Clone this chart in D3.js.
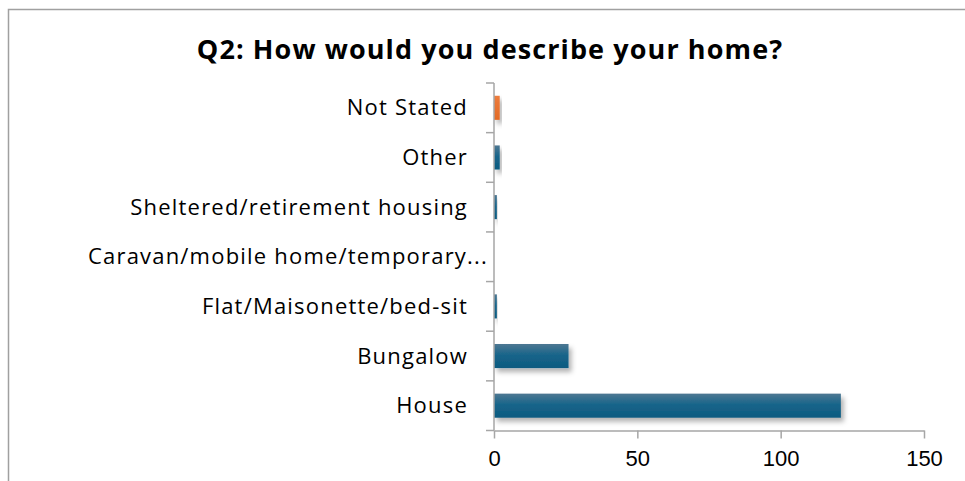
<!DOCTYPE html>
<html>
<head>
<meta charset="utf-8">
<script src="https://cdn.jsdelivr.net/npm/d3@7"></script>
<style>
  html, body { margin: 0; padding: 0; background: #fff; }
  svg { display: block; }
  text { font-family: "Open Sans", "Liberation Sans", sans-serif; fill: #000; }
</style>
</head>
<body>
<svg id="chart" width="965" height="481"></svg>
<script>
// Survey responses, Q2: type of home
const categories = [
  "House",
  "Bungalow",
  "Flat/Maisonette/bed-sit",
  "Caravan/mobile home/temporary...",
  "Sheltered/retirement housing",
  "Other",
  "Not Stated"
];
const counts = [121, 26, 1, 0, 1, 2, 2];
const highlighted = ["Not Stated"];
const xTicks = [0, 50, 100, 150];
const title = "Q2: How would you describe your home?";

const plot = { left: 494, right: 924, top: 83, bottom: 430.5 };

const svg = d3.select("#chart");

// Chart frame
svg.append("rect")
  .attr("x", 8.5).attr("y", 9.5)
  .attr("width", 1000).attr("height", 600)
  .attr("fill", "none").attr("stroke", "#a0a0a0").attr("stroke-width", 1.5);

const defs = svg.append("defs");
const blue = defs.append("linearGradient").attr("id", "gBlue")
  .attr("x1", 0).attr("y1", 0).attr("x2", 0).attr("y2", 1);
blue.append("stop").attr("offset", "0%").attr("stop-color", "#4d7792");
blue.append("stop").attr("offset", "45%").attr("stop-color", "#19658a");
blue.append("stop").attr("offset", "100%").attr("stop-color", "#0a5a80");

const orange = defs.append("linearGradient").attr("id", "gOrange")
  .attr("x1", 0).attr("y1", 0).attr("x2", 0).attr("y2", 1);
orange.append("stop").attr("offset", "0%").attr("stop-color", "#ee7c3c");
orange.append("stop").attr("offset", "100%").attr("stop-color", "#e26a26");

const shadow = defs.append("filter").attr("id", "shadow")
  .attr("x", "-20%").attr("y", "-30%").attr("width", "150%").attr("height", "180%");
shadow.append("feDropShadow")
  .attr("dx", 3).attr("dy", 4).attr("stdDeviation", 2.5)
  .attr("flood-color", "#000").attr("flood-opacity", 0.3);

const x = d3.scaleLinear().domain([0, 150]).range([plot.left, plot.right]);
const y = d3.scaleBand().domain(categories).range([plot.bottom, plot.top])
  .paddingInner(0.515).paddingOuter(0.2575);

// Title
svg.append("text")
  .attr("x", 490).attr("y", 59)
  .attr("text-anchor", "middle")
  .style("font-size", "27px").style("font-weight", "bold")
  .style("letter-spacing", "1.1px")
  .text(title);

// Bars
svg.append("g").selectAll("rect")
  .data(categories.map((c, i) => ({ c, v: counts[i] })))
  .join("rect")
  .attr("x", x(0))
  .attr("y", d => y(d.c))
  .attr("width", d => x(d.v) - x(0))
  .attr("height", y.bandwidth())
  .attr("fill", d => highlighted.includes(d.c) ? "url(#gOrange)" : "url(#gBlue)")
  .attr("filter", "url(#shadow)");

// X axis
const xAxis = svg.append("g")
  .attr("transform", `translate(0,${plot.bottom})`)
  .call(d3.axisBottom(x).tickValues(xTicks).tickSize(8).tickSizeOuter(0).tickPadding(12));
xAxis.select(".domain").attr("stroke", "#a6a6a6").attr("stroke-width", 1.5);
xAxis.selectAll(".tick line").attr("stroke", "#a6a6a6").attr("stroke-width", 1.5);
xAxis.selectAll(".tick text")
  .style("font-size", "22px")
  .style("font-family", "\"Liberation Sans\", Arial, sans-serif")
  .attr("fill", "#000");

// Y axis: category boundary ticks
const bounds = d3.range(categories.length + 1).map(i =>
  plot.bottom - i * (plot.bottom - plot.top) / categories.length);
const yAxis = svg.append("g");
yAxis.append("line")
  .attr("x1", plot.left).attr("x2", plot.left)
  .attr("y1", plot.top).attr("y2", plot.bottom)
  .attr("stroke", "#a6a6a6").attr("stroke-width", 1.5);
yAxis.selectAll("line.tk").data(bounds).join("line").attr("class", "tk")
  .attr("x1", plot.left - 8).attr("x2", plot.left)
  .attr("y1", d => d).attr("y2", d => d)
  .attr("stroke", "#a6a6a6").attr("stroke-width", 1.5);

yAxis.selectAll("text").data(categories).join("text")
  .attr("x", d => d.endsWith("...") ? 488 : 468)
  .attr("y", d => y(d) + y.bandwidth() / 2)
  .attr("dy", "0.34em")
  .attr("text-anchor", "end")
  .style("font-size", "22px")
  .style("letter-spacing", "1.2px")
  .text(d => d);
</script>
</body>
</html>
